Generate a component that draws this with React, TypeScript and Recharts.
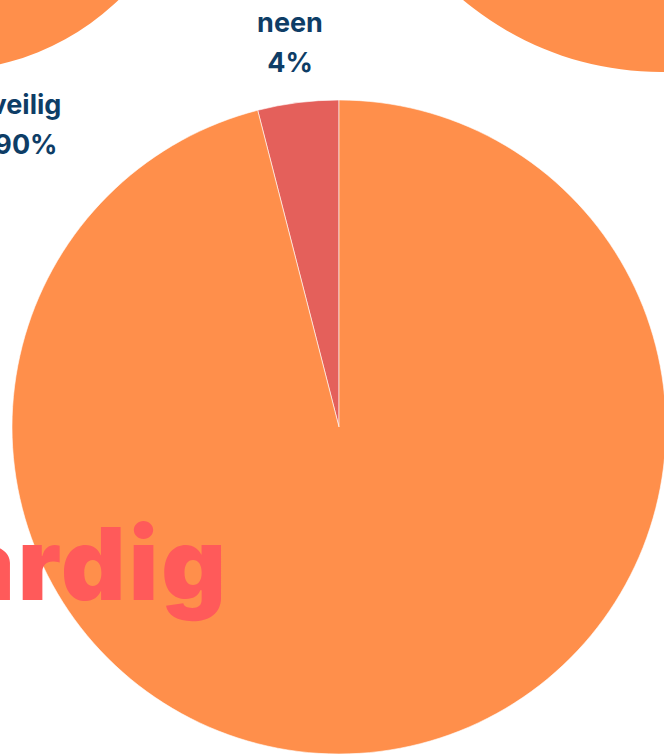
import React from 'react';
import { PieChart, Pie, Cell } from 'recharts';

const mainNames = ['neen', 'ja'];
const mainValues = [4, 96];
const mainColors = ['#E4605B', '#FF8F4B'];

const leftNames = ['veilig', 'rest'];
const leftValues = [90, 10];
const leftColors = ['#FF8F4B', '#FF8F4B'];

const rightNames = ['ja'];
const rightValues = [100];

const headline = 'aardig';

const mainData = mainNames.map((n, i) => ({ name: n, value: mainValues[i] }));
const leftData = leftNames.map((n, i) => ({ name: n, value: leftValues[i] }));
const rightData = rightNames.map((n, i) => ({ name: n, value: rightValues[i] }));

const RAD = Math.PI / 180;
const NAVY = '#0E3D66';

const makeLabel = (labelName: string, total: number, offset: number) => (props: any) => {
  const { cx, cy, midAngle, outerRadius, name, value } = props;
  if (name !== labelName) return null;
  const r = outerRadius + offset;
  const x = cx + r * Math.cos(-midAngle * RAD);
  const y = cy + r * Math.sin(-midAngle * RAD);
  const pct = Math.round((value / total) * 100) + '%';
  return (
    <g>
      <text x={x} y={y - 7} textAnchor="middle" fill={NAVY} fontFamily="Inter, sans-serif" fontWeight={700} fontSize={27}>
        {name}
      </text>
      <text x={x} y={y + 33} textAnchor="middle" fill={NAVY} fontFamily="Inter, sans-serif" fontWeight={700} fontSize={27}>
        {pct}
      </text>
    </g>
  );
};

export default function App() {
  const mainTotal = mainValues.reduce((a, b) => a + b, 0);
  const leftTotal = leftValues.reduce((a, b) => a + b, 0);
  return (
    <div style={{ position: 'absolute', left: 0, top: 0, width: 664, height: 756, overflow: 'hidden', background: '#fff' }}>
      <PieChart width={664} height={756} margin={{ top: 0, right: 0, bottom: 0, left: 0 }}>
        <Pie
          data={leftData}
          dataKey="value"
          nameKey="name"
          cx={-58}
          cy={-184}
          outerRadius={255}
          startAngle={123.4}
          endAngle={483.4}
          stroke="none"
          isAnimationActive={false}
          labelLine={false}
          label={makeLabel('veilig', leftTotal, 61)}
        >
          {leftData.map((d, i) => (
            <Cell key={d.name} fill={leftColors[i]} />
          ))}
        </Pie>
        <Pie
          data={rightData}
          dataKey="value"
          nameKey="name"
          cx={661}
          cy={-236}
          outerRadius={308}
          startAngle={90}
          endAngle={450}
          stroke="none"
          fill="#FF8F4B"
          isAnimationActive={false}
        />
        <Pie
          data={mainData}
          dataKey="value"
          nameKey="name"
          cx={339}
          cy={427}
          outerRadius={327}
          startAngle={90}
          endAngle={450}
          stroke="#fff"
          strokeWidth={0.6}
          isAnimationActive={false}
          labelLine={false}
          label={makeLabel('neen', mainTotal, 64)}
        >
          {mainData.map((d, i) => (
            <Cell key={d.name} fill={mainColors[i]} />
          ))}
        </Pie>
      </PieChart>
      <svg width={664} height={756} style={{ position: 'absolute', left: 0, top: 0, pointerEvents: 'none' }}>
        <text x={229} y={600} textAnchor="end" fill="#FF5A5A" fontFamily="Inter, sans-serif" fontWeight={900} fontSize={100} letterSpacing={3}>
          {headline}
        </text>
      </svg>
    </div>
  );
}
